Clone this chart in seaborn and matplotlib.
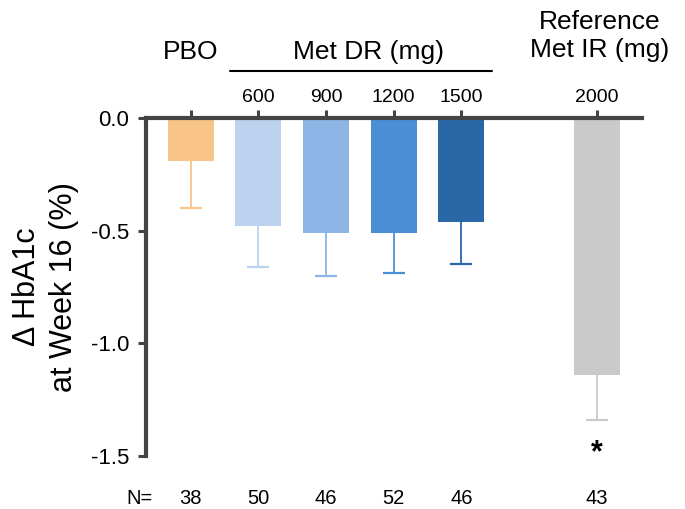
import matplotlib
matplotlib.use("Agg")
import matplotlib.pyplot as plt
import matplotlib.transforms as mtransforms
import seaborn as sns
import pandas as pd

# values
groups = ["PBO", "600", "900", "1200", "1500", "2000"]
hba1c_change = [-0.19, -0.48, -0.51, -0.51, -0.46, -1.14]
sem = [0.21, 0.18, 0.19, 0.18, 0.19, 0.20]
n_patients = [38, 50, 46, 52, 46, 43]
bar_colors = ["#F8C487", "#BCD2EF", "#8DB5E6", "#4A8FD6", "#2967A6", "#CACACA"]
tick_labels = ["", "600", "900", "1200", "1500", "2000"]
y_ticks = [0.0, -0.5, -1.0, -1.5]

sns.set_style("white")
plt.rcParams["font.family"] = ["Liberation Sans", "DejaVu Sans"]
plt.rcParams["axes.unicode_minus"] = False
plt.rcParams["text.color"] = "black"
plt.rcParams["axes.labelcolor"] = "black"
plt.rcParams["xtick.labelcolor"] = "black"
plt.rcParams["ytick.labelcolor"] = "black"

axis_col = "#444444"

df = pd.DataFrame({"group": groups, "change": hba1c_change})
# empty slot between the DR doses and the reference arm
order = groups[:5] + ["gap"] + groups[5:]

fig = plt.figure(figsize=(6.85, 5.09), dpi=100)
ax = fig.add_axes([146 / 685, 1 - 456 / 509, (642 - 146) / 685, (456 - 118) / 509])

sns.barplot(data=df, x="group", y="change", hue="group", order=order,
            hue_order=groups, palette=bar_colors, saturation=1, width=0.68,
            legend=False, errorbar=None, linewidth=0, ax=ax)

# one-sided (downward) error bars, cap only at the lower end
for g, m, s, c in zip(groups, hba1c_change, sem, bar_colors):
    x = order.index(g)
    eb = ax.errorbar(x, m, yerr=[[s], [0]], fmt="none", ecolor=c,
                     elinewidth=1.3, capsize=8, capthick=1.6)
    for cap in eb[1]:
        if abs(cap.get_ydata()[0] - m) < 1e-9:
            cap.set_visible(False)

ax.set_xlim(-0.66, 6.67)
ax.set_ylim(-1.5, 0)

ax.xaxis.tick_top()
ax.set_xticks([order.index(g) for g in groups])
ax.set_xticklabels(tick_labels)
ax.set_yticks(y_ticks)
ax.set_yticklabels([f"{v:.1f}" for v in y_ticks])
ax.tick_params(axis="x", top=True, bottom=False, direction="out", length=6,
               width=2.2, color=axis_col, labelsize=14, pad=3)
ax.tick_params(axis="y", left=True, direction="out", length=6,
               width=2.2, color=axis_col, labelsize=16, pad=6)

ax.spines[["right", "bottom"]].set_visible(False)
for sp in ["top", "left"]:
    ax.spines[sp].set_linewidth(3)
    ax.spines[sp].set_color(axis_col)

ax.set_xlabel("")
ax.set_ylabel("Δ HbA1c\nat Week 16 (%)", fontsize=22, linespacing=1.3)
ax.yaxis.set_label_coords(-0.135, 0.5)

trans = mtransforms.blended_transform_factory(ax.transData, ax.transAxes)
ax.text(0, 1.195, "PBO", ha="center", va="center", fontsize=19, transform=trans)
ax.text(2.63, 1.195, "Met DR (mg)", ha="center", va="center", fontsize=19, transform=trans)
ax.plot([0.58, 4.45], [1.139, 1.139], color="black", lw=1.5, transform=trans, clip_on=False)
ax.text(6.05, 1.243, "Reference\nMet IR (mg)", ha="center", va="center",
        fontsize=19, linespacing=1.2, transform=trans)

# patient counts under the chart
ax.text(-0.76, -0.127, "N=", ha="center", va="center", fontsize=14.5, transform=trans)
for g, n in zip(groups, n_patients):
    ax.text(order.index(g), -0.127, str(n), ha="center", va="center",
            fontsize=14.5, transform=trans)

# significance marker
ax.text(order.index("2000"), -1.49, "*", ha="center", va="center",
        fontsize=22, fontweight="bold")

fig.savefig("out.png", dpi=100)
